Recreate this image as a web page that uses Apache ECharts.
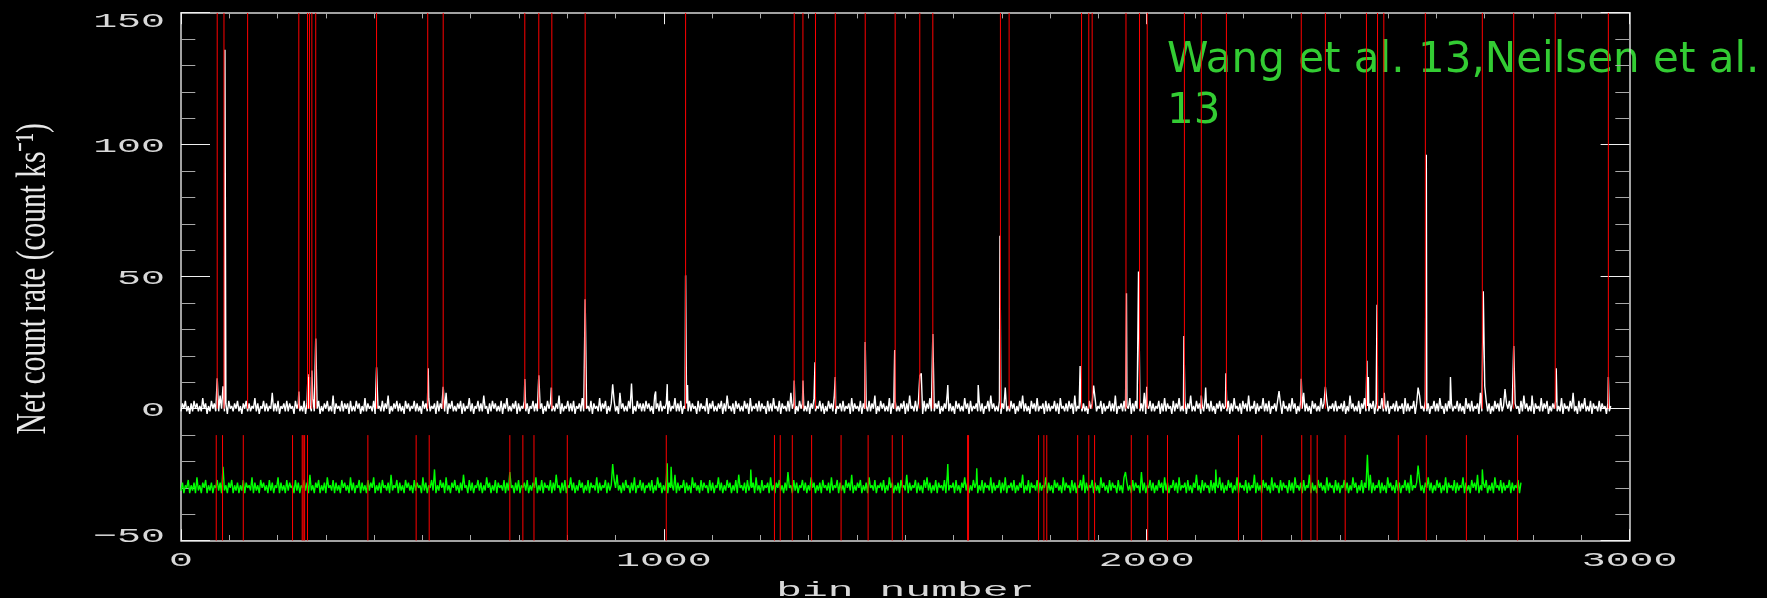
<!DOCTYPE html>
<html>
<head>
<meta charset="utf-8">
<title>Net count rate per bin</title>
<script src="https://cdn.jsdelivr.net/npm/echarts@6/dist/echarts.min.js"></script>
<style>
  html, body { margin: 0; padding: 0; background: #000; }
  #chart { width: 1767px; height: 598px; }
</style>
</head>
<body>
<div id="chart"></div>
<script>
// ---- data -------------------------------------------------------------
// Both light curves are sampled on a 3-bin grid; isolated flare bins are listed separately.
const BIN_STEP = 3;

// Upper light curve (net count rate, count/ks)
const upperRate = [
  -1,2,0,3,-1,1,-2,2,-1,3,0,2,-1,1,-1,4,0,2,-2,1,-1,3,0,2,-1,2,-1,5,0,1,-1,2,-2,3,0,1,-1,2,0,3,
  -1,1,-2,2,0,3,-1,2,-1,1,0,4,-1,2,-2,1,0,3,-1,2,-1,1,0,6,-1,2,-1,3,-2,1,0,2,-1,3,-1,2,0,1,-2,3,
  0,2,-1,1,-1,3,-2,2,0,1,-1,4,-1,2,0,3,-2,1,-1,2,0,3,-1,1,-1,5,-2,2,0,1,-1,3,-1,2,0,2,-2,3,-1,1,
  -1,3,0,2,-2,1,-1,4,-1,2,0,1,-1,3,-2,2,0,1,-1,3,-1,2,0,5,-2,1,-1,2,0,3,-1,2,-1,1,-2,3,0,2,-1,1,
  0,3,-1,2,-1,1,-2,3,0,2,-1,4,-1,1,0,2,-2,3,-1,2,0,1,-1,6,-2,2,0,3,-1,1,-1,2,0,3,-2,2,-1,1,0,4,
  -1,2,-2,1,0,3,-1,2,-1,5,0,1,-2,2,-1,3,0,2,-1,1,-1,3,-2,2,0,4,-1,1,-1,2,0,3,-2,2,-1,1,0,3,-1,2,
  -2,1,0,3,-1,2,-1,4,0,2,-2,1,-1,3,0,2,-1,1,-1,2,0,5,-2,2,-1,1,0,3,-1,2,-1,3,-2,1,0,2,-1,4,-1,2,
  0,1,-1,3,-2,2,0,1,-1,4,-1,2,0,3,-2,1,-1,2,0,3,-1,1,-2,6,0,2,-1,1,-1,3,0,2,-2,1,-1,3,0,2,-1,2,
  -1,3,0,2,-1,1,-2,5,0,2,-1,3,-1,1,0,2,-2,3,-1,1,0,4,-1,2,-1,3,-2,1,0,2,-1,3,-1,2,0,1,-2,3,-1,2,
  0,1,-1,4,-2,2,0,3,-1,1,-1,2,0,3,-2,2,-1,5,0,1,-1,2,-2,3,0,2,-1,1,-1,3,0,2,-2,4,-1,1,0,2,-1,3,
  -1,2,0,1,-2,3,-1,2,-1,4,0,1,-1,3,-2,2,0,1,-1,3,-1,6,0,2,-2,1,-1,3,0,2,-1,1,-1,3,-2,2,0,4,-1,1,
  0,3,-1,2,-2,1,-1,3,0,2,-1,5,-2,1,0,2,-1,3,-1,1,0,2,-2,4,-1,2,0,1,-1,3,-2,2,0,1,-1,3,-1,2,0,5,
  -2,1,-1,3,0,2,-1,1,-1,4,-2,2,0,3,-1,1,-1,2,0,3,-2,2,-1,5,0,1,-1,3,-1,2,0,1,-2,3,-1,2,0,4,-1,1,
  -1,2,0,3,-2,1,-1,2,0,6,-1,2,-1,1,-2,3,0,2,-1,1,-1,4,0,2,-2,3,-1,1,0,2,-1,3,-1,2,-2,1,0,3,-1,5,
  0,2,-1,1,-1,3,-2,2,0,4,-1,1,-1,3,0,2,-2,1,-1,3,0,5,-1,2,-1,1,-2,3,0,2,-1,4,-1,1,0,2,-2,3,-1,2,
  -1,1,0,3,-1,2,-2,4,0,1,-1,2,-1,3,0,2,-2,5,-1,1,0,3,-1,2,-1,1,-2,3,0,2,-1,4,-1,1,0,3,-2,2,-1,1,
  0,3,-1,2,-1,5,-2,1,0,2,-1,3,-1,1,0,4,-2,2,-1,3,0,1,-1,2,-1,6,-2,1,0,3,-1,2,-1,1,0,3,-2,2,-1,4,
  -1,2,0,1,-2,3,-1,2,0,4,-1,1,-1,3,-2,2,0,5,-1,1,-1,3,0,2,-2,1,-1,4,0,2,-1,3,-1,1,-2,2,0,3,-1,2,
  0,1,-1,3,-2,2,-1,4,0,1,-1,2,-2,3,0,2,-1,5,-1,1,0,3,-2,2,-1,1,0,4,-1,2,-1,3,-2,1,0,2,-1,3,-1,2,
  -2,3,0,1,-1,2,-1,4,0,2,-2,1,-1,3,0,6,-1,2,-1,1,-2,3,0,2,-1,1,-1,4,0,2,-2,3,-1,1,0,2,-1,3,-1,1,
  0,2,-1,3,-2,1,-1,5,0,2,-1,1,-1,3,-2,2,0,4,-1,1,-1,2,0,3,-2,2,-1,1,0,4,-1,2,-1,3,-2,1,0,2,-1,3,
  -1,1,0,2,-2,4,-1,2,-1,1,0,3,-2,2,-1,5,0,1,-1,3,-1,2,-2,1,0,3,-1,2,-1,4,0,1,-2,2,-1,3,0,2,-1,1,
  0,3,-1,2,-1,1,-2,4,0,2,-1,3,-1,1,0,2,-2,6,-1,1,0,3,-1,2,-2,1,-1,3,0,2,-1,4,-1,1,-2,2,0,3,-1,2,
  -1,2,0,1,-2,3,-1,5,0,2,-1,1,-1,3,-2,2,0,1,-1,4,-1,2,0,3,-2,1,-1,2,0,3,-1,1,-1,4,-2,2,0,1,-1,3,
  0,2,-1,1,-2,3,-1,2,0,4,-1,1,-1,3,-2,2,0,1,-1,3,-1,2,0,1,-2,2,-1,1
];

// Flare bins of the upper light curve: [bin, rate]
const upperFlares = [
  [75, 11.5], [87, 8.5], [91, 136], [244, 6.5], [263, 13], [266, 12], [271, 14.5], [279, 26.6],
  [405, 15.7], [512, 15.3], [543, 8.3], [712, 11.2], [741, 12.7], [767, 8], [837, 41.5],
  [894, 9.2], [933, 9.5], [983, 6.5], [1007, 9.3], [1045, 50.5], [1049, 9], [1270, 10.7],
  [1288, 10.7], [1313, 17.6], [1355, 12], [1417, 25.3], [1478, 22.2], [1530, 12.5], [1533, 13.4],
  [1557, 28.3], [1588, 9], [1651, 9], [1696, 65.5], [1707, 8], [1862, 16.2], [1890, 8.8],
  [1958, 43.7], [1983, 52], [2000, 8.3], [2077, 27.5], [2113, 5], [2122, 8], [2164, 13.4],
  [2274, 6.7], [2320, 11.3], [2370, 8.3], [2456, 18.2], [2459, 12], [2477, 39.4], [2492, 6],
  [2562, 8], [2579, 96.2], [2629, 12], [2697, 44.5], [2700, 8.5], [2742, 7.4], [2760, 23.7],
  [2798, 5], [2848, 15.3], [2883, 6], [2956, 12]
];

// Lower light curve, drawn shifted down by LOWER_OFFSET
const LOWER_OFFSET = -30;
const lowerRate = [
  -1,2,-2,1,0,3,-2,1,-1,2,-2,4,-1,1,-2,2,0,3,-2,1,-1,2,-2,1,0,3,-1,2,-2,5,-1,1,-2,2,0,3,-2,1,-1,2,
  -2,1,-1,3,-2,2,0,1,-1,4,-2,2,-1,1,-2,3,0,2,-1,1,-2,3,-1,2,-2,1,0,4,-2,2,-1,1,-2,3,-1,2,0,1,-2,3,
  -1,2,-2,1,0,3,-1,2,-2,5,-1,1,-2,2,0,3,-2,1,-1,2,-2,4,0,1,-1,3,-2,2,-1,1,-2,3,0,2,-1,1,-2,4,-1,2,
  -2,1,0,3,-2,2,-1,1,-2,3,-1,2,0,4,-2,1,-1,2,-2,3,0,1,-1,2,-2,5,-1,1,0,3,-2,2,-1,1,-2,3,0,2,-1,1,
  -2,3,-1,2,0,1,-2,4,-1,2,-2,1,0,3,-1,2,-2,1,-1,3,0,2,-2,4,-1,1,-2,2,0,3,-1,1,-2,2,-1,5,0,1,-2,3,
  -1,2,-2,1,0,3,-1,2,-2,1,-1,4,0,2,-2,1,-1,3,-2,2,0,1,-1,3,-2,2,-1,6,0,1,-2,2,-1,3,-2,1,0,2,-1,3,
  -2,1,-1,2,0,4,-2,1,-1,3,-2,2,0,1,-1,3,-2,2,-1,5,0,1,-2,2,-1,3,-2,1,0,4,-1,2,-2,1,-1,3,0,2,-2,1,
  -1,3,-2,2,0,1,-1,4,-2,2,-1,1,0,3,-2,2,-1,1,-2,3,0,5,-1,1,-2,2,-1,3,0,1,-2,2,-1,4,-2,1,0,3,-1,2,
  -2,1,0,2,-1,3,-2,1,-1,4,0,2,-2,1,-1,3,-2,2,0,1,-1,5,-2,2,-1,1,0,3,-2,2,-1,1,-2,4,0,2,-1,1,-2,3,
  -1,2,0,1,-2,3,-1,2,-2,1,0,4,-1,2,-2,1,-1,3,0,2,-2,1,-1,3,-2,5,0,1,-1,2,-2,3,-1,1,0,2,-2,4,-1,1,
  -2,3,-1,1,0,2,-2,4,-1,1,-2,2,0,3,-1,1,-2,2,-1,6,0,1,-2,3,-1,2,-2,1,0,3,-1,2,-2,1,-1,4,0,2,-2,1,
  -1,2,-2,3,0,1,-1,2,-2,4,-1,1,0,3,-2,2,-1,1,-2,3,0,2,-1,5,-2,1,-1,2,0,3,-2,1,-1,2,-2,4,0,1,-1,3,
  -2,1,0,2,-1,3,-2,1,-1,4,0,2,-2,1,-1,2,-2,3,0,1,-1,5,-2,2,-1,1,0,3,-2,2,-1,1,-2,3,0,4,-1,2,-2,1,
  -1,3,-2,2,0,1,-1,3,-2,5,-1,1,0,2,-2,3,-1,1,-2,2,0,4,-1,2,-2,1,-1,3,0,2,-2,1,-1,3,-2,2,0,1,-1,4,
  -2,2,-1,1,0,3,-2,2,-1,4,-2,1,0,2,-1,3,-2,1,-1,2,0,5,-2,1,-1,3,-2,2,0,1,-1,3,-2,2,-1,1,0,4,-2,2,
  -1,1,-2,3,0,2,-1,1,-2,4,-1,2,0,1,-2,3,-1,2,-2,1,0,3,-1,5,-2,2,-1,1,0,3,-2,2,-1,1,-2,4,0,2,-1,1,
  -2,3,-1,2,0,1,-2,3,-1,1,-2,4,0,2,-1,1,-2,3,-1,2,0,1,-2,6,-1,2,-2,1,0,3,-1,2,-2,1,-1,3,0,2,-2,4,
  -1,2,-2,1,0,3,-1,2,-2,4,-1,1,0,2,-2,3,-1,1,-2,2,0,5,-1,1,-2,3,-1,2,0,1,-2,3,-1,2,-2,1,0,4,-1,2,
  -2,1,-1,3,0,2,-2,1,-1,4,-2,2,0,1,-1,3,-2,2,-1,1,0,5,-2,2,-1,1,-2,3,0,2,-1,1,-2,4,-1,2,0,1,-2,3,
  -1,2,0,1,-2,3,-1,2,-2,4,0,1,-1,2,-2,3,-1,1,0,5,-2,2,-1,1,-2,3,0,2,-1,1,-2,4,-1,2,0,1,-2,3,-1,2,
  -2,1,0,3,-1,2,-2,1,-1,4,0,2,-2,1,-1,3,-2,2,0,1,-1,5,-2,2,-1,1,0,3,-2,2,-1,1,-2,4,0,2,-1,1,-2,3,
  -1,2,-2,1,0,3,-1,2,-2,5,-1,1,0,2,-2,3,-1,1,-2,2,0,4,-1,2,-2,1,-1,3,0,2,-2,1,-1,4,-2,2,0,1,-1,3,
  -2,2,-1,1,0,4,-2,2,-1,1,-2,3,0,2,-1,5,-2,1,-1,2,0,3,-2,1,-1,2,-2,4,0,1,-1,3,-2,2,-1,1,0,3,-2,2,
  -1,1,0,3,-2,2
];

// Flare bins of the lower light curve (before offset): [bin, rate]
const lowerFlares = [
  [87, 8], [525, 7], [894, 9], [1007, 9.3], [1015, 8], [1180, 7], [1588, 9], [1648, 7.4],
  [1956, 6], [2143, 7], [2457, 12.5], [2562, 8.5], [2695, 7]
];

// Event markers (bin numbers) for each light curve
const upperEvents = [75, 89, 138, 244, 262, 266, 271, 279, 405, 511, 543, 712, 741, 768, 837,
  1045, 1270, 1288, 1314, 1355, 1417, 1479, 1530, 1557, 1697, 1715, 1865, 1880, 1887, 1957,
  1985, 2001, 2078, 2113, 2165, 2320, 2370, 2455, 2478, 2491, 2577, 2695, 2760, 2846, 2956];
const lowerEvents = [73, 86, 129, 231, 251, 253, 256, 262, 387, 487, 514, 681, 708, 731, 800,
  1005, 1229, 1241, 1266, 1306, 1367, 1423, 1473, 1494, 1629, 1631, 1776, 1787, 1793, 1857,
  1880, 1892, 1968, 2002, 2043, 2190, 2238, 2321, 2340, 2353, 2411, 2521, 2579, 2662, 2768];
const upperEventSpan = [0, 150];
const lowerEventSpan = [-50, -10];

// Axes
const xTicks = [0, 1000, 2000, 3000];
const yTicks = [-50, 0, 50, 100, 150];
const xTitle = 'bin number';
const yTitle = 'Net count rate (count ks\u207B\u00B9)';
const note = 'Wang et al. 13,Neilsen et al.\n13';

// ---- styling ------------------------------------------------------------
const AXIS_FONT = 'Liberation Mono';
const AXIS_TEXT = '#d8d8d8';
const LABEL_SIZE = 21;
const LABEL_STRETCH = 1.9;
const RED = '#ff0000';
const CURVE_WIDTH = 1.4;

function buildCurve(rates, flares, offset) {
  const pts = rates.map((v, i) => [i * BIN_STEP, v + offset]);
  flares.forEach(([b, v]) => {
    const i = pts.findIndex(p => p[0] >= b);
    if (i < 0) pts.push([b, v + offset]);
    else if (pts[i][0] === b) pts[i][1] = v + offset;
    else pts.splice(i, 0, [b, v + offset]);
  });
  return pts;
}

function eventRenderer(span) {
  return function (params, api) {
    const b = api.value(0);
    const p0 = api.coord([b, span[0]]);
    const p1 = api.coord([b, span[1]]);
    return {
      type: 'line',
      shape: { x1: p0[0], y1: p0[1], x2: p1[0], y2: p1[1] },
      style: { stroke: RED, lineWidth: 1 }
    };
  };
}

function frameAxis(extra) {
  return Object.assign({
    type: 'value',
    axisLine: { show: true, onZero: false, lineStyle: { color: '#d8d8d8', width: 1.5 } },
    axisLabel: { show: false },
    splitLine: { show: false },
    minorSplitLine: { show: false }
  }, extra);
}

const xTickStyle = {
  min: 0, max: 3000, interval: 1000,
  axisTick: { show: true, inside: true, length: 11.5, lineStyle: { color: '#f0f0f0' } },
  minorTick: { show: true, splitNumber: 10, length: 5.7, lineStyle: { color: '#a8a8a8' } }
};
const yTickStyle = {
  min: -50, max: 150, interval: 50,
  axisTick: { show: true, inside: true, length: 29, lineStyle: { color: '#f0f0f0' } },
  minorTick: { show: true, splitNumber: 5, length: 14.3, lineStyle: { color: '#a8a8a8' } }
};

const chart = echarts.init(document.getElementById('chart'), null, { renderer: 'canvas' });

const option = {
  backgroundColor: '#000',
  animation: false,
  grid: { left: 181, right: 137.4, top: 12.7, bottom: 57.3, containLabel: false },
  xAxis: [
    frameAxis(Object.assign({ position: 'bottom' }, xTickStyle)),
    frameAxis(Object.assign({ position: 'top' }, xTickStyle))
  ],
  yAxis: [
    frameAxis(Object.assign({ position: 'left' }, yTickStyle)),
    frameAxis(Object.assign({ position: 'right' }, yTickStyle))
  ],
  series: [
    {
      name: 'lower', type: 'line', xAxisIndex: 0, yAxisIndex: 0,
      data: buildCurve(lowerRate, lowerFlares, LOWER_OFFSET),
      showSymbol: false, symbol: 'none', sampling: null, z: 3,
      lineStyle: { color: '#00ff00', width: CURVE_WIDTH }
    },
    {
      name: 'upper', type: 'line', xAxisIndex: 0, yAxisIndex: 0,
      data: buildCurve(upperRate, upperFlares, 0),
      showSymbol: false, symbol: 'none', sampling: null, z: 3,
      lineStyle: { color: '#ffffff', width: CURVE_WIDTH }
    },
    {
      name: 'lower events', type: 'custom', xAxisIndex: 0, yAxisIndex: 0, z: 4, clip: true,
      renderItem: eventRenderer(lowerEventSpan),
      data: lowerEvents.map(b => [b, lowerEventSpan[1]])
    },
    {
      name: 'upper events', type: 'custom', xAxisIndex: 0, yAxisIndex: 0, z: 4, clip: true,
      renderItem: eventRenderer(upperEventSpan),
      data: upperEvents.map(b => [b, upperEventSpan[1]])
    }
  ]
};

chart.setOption(option);

// ---- stretched axis text, placed through the axis scales -------------------
function axisText(text, x, y, align, stretch) {
  return {
    type: 'text', x: x, y: y, scaleX: stretch, silent: true, z: 5,
    style: {
      text: text, fill: AXIS_TEXT, fontFamily: AXIS_FONT, fontSize: LABEL_SIZE,
      align: align, textAlign: align, verticalAlign: 'middle', textVerticalAlign: 'middle'
    }
  };
}

const gridRect = chart.getModel().getComponent('grid', 0).coordinateSystem.getRect();
const graphics = [];

yTicks.forEach(v => {
  const py = chart.convertToPixel({ gridIndex: 0 }, [0, v])[1];
  const y = Math.min(Math.max(py, gridRect.y + 7), gridRect.y + gridRect.height - 6) + 1.3;
  const label = v < 0 ? '\u2212' + Math.abs(v) : String(v);
  graphics.push(axisText(label, gridRect.x - 16, y, 'right', LABEL_STRETCH));
});

xTicks.forEach(v => {
  const px = chart.convertToPixel({ gridIndex: 0 }, [v, 0])[0];
  graphics.push(axisText(String(v), px, gridRect.y + gridRect.height + 20, 'center', LABEL_STRETCH));
});

graphics.push(axisText(xTitle, gridRect.x + gridRect.width / 2, 590.1, 'center', 2.05));

graphics.push({
  type: 'text', x: 34.1, y: gridRect.y + 266, rotation: Math.PI / 2, scaleX: 0.7, silent: true, z: 5,
  style: {
    text: yTitle, fill: '#e8e8e8', fontFamily: 'Liberation Serif', fontSize: 42,
    align: 'center', textAlign: 'center', verticalAlign: 'middle', textVerticalAlign: 'middle'
  }
});

graphics.push({
  type: 'text', x: 1167, y: 36, silent: true, z: 0,
  style: {
    text: note, fill: '#33cc33', fontFamily: 'DejaVu Sans', fontSize: 42, lineHeight: 51,
    align: 'left', textAlign: 'left', verticalAlign: 'top', textVerticalAlign: 'top'
  }
});

chart.setOption({ graphic: graphics });
</script>
</body>
</html>
